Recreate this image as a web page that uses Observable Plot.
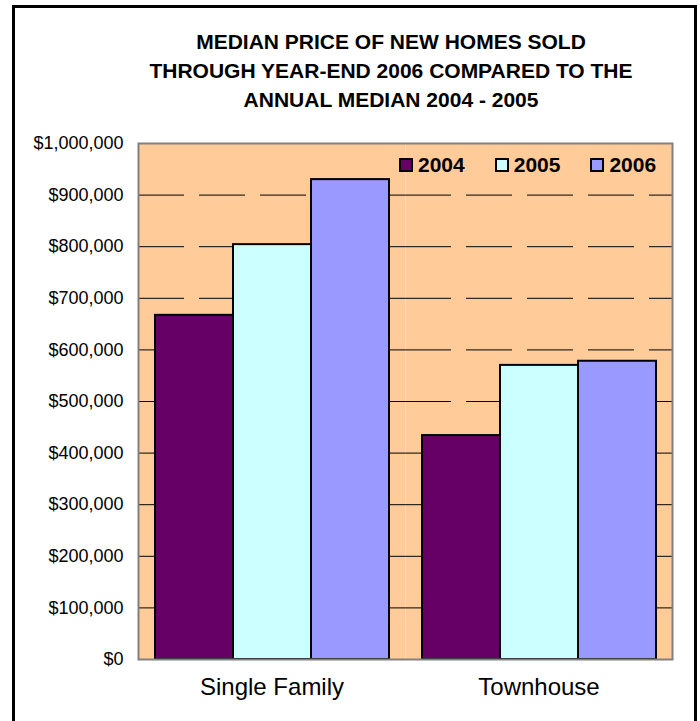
<!DOCTYPE html>
<html>
<head>
<meta charset="utf-8">
<script src="https://cdn.jsdelivr.net/npm/d3@7"></script>
<script src="https://cdn.jsdelivr.net/npm/@observablehq/plot@0.6"></script>
<style>
  html, body { margin: 0; padding: 0; background: #fff; }
  body { width: 700px; height: 721px; overflow: hidden; position: relative; font-family: "Liberation Sans", Arial, sans-serif; }
  #box { position: absolute; left: 12px; top: 5px; width: 685px; height: 740px; border: 3px solid #000; border-bottom: none; box-sizing: border-box; }
  #title { position: absolute; left: 141px; width: 500px; top: 27px; text-align: center; font-weight: bold; font-size: 21px; line-height: 29px; color: #000; }
  #chart { position: absolute; left: 0; top: 0; }
  #legend { position: absolute; left: 399px; top: 154px; display: flex; font-weight: bold; font-size: 21px; line-height: 21px; color: #000; }
  #legend .item { display: flex; align-items: center; margin-right: 30px; }
  #legend .sw { width: 14px; height: 14px; border: 2px solid #000; box-sizing: border-box; margin-right: 5px; }
</style>
</head>
<body>
<div id="box"></div>
<div id="title">MEDIAN PRICE OF NEW HOMES SOLD<br>THROUGH YEAR-END 2006 COMPARED TO THE<br>ANNUAL MEDIAN 2004 - 2005</div>
<div id="chart"></div>
<div id="legend"></div>
<script>
const categories = ["Single Family", "Townhouse"];
const years = ["2004", "2005", "2006"];
const values2004 = [667000, 434000];
const values2005 = [804000, 570000];
const values2006 = [930000, 578000];
const yTicks = [0, 100000, 200000, 300000, 400000, 500000, 600000, 700000, 800000, 900000, 1000000];
const yearColors = ["#660066", "#CCFFFF", "#9999FF"];

const series = [values2004, values2005, values2006];
const data = [];
categories.forEach((c, i) => years.forEach((y, j) => data.push({category: c, year: y, value: series[j][i]})));
const gridTicks = yTicks.filter(t => t > 0 && t < 1000000);

const plot = Plot.plot({
  width: 700,
  height: 721,
  marginTop: 143,
  marginBottom: 62,
  marginLeft: 138,
  marginRight: 28,
  style: {fontFamily: "'Liberation Sans', Arial, sans-serif", fontSize: "18px", color: "#000", background: "transparent", overflow: "visible"},
  fx: {domain: categories, padding: 0, axis: null, label: null},
  x: {domain: years, paddingInner: 0, paddingOuter: 0.2, axis: null, label: null},
  y: {domain: [0, 1000000], ticks: yTicks, tickFormat: d3.format("$,"), tickSize: 0, tickPadding: 15, label: null},
  color: {domain: years, range: yearColors},
  marks: [
    Plot.frame({fill: "#FFCC99", stroke: null}),
    Plot.ruleY(gridTicks, {y: d => d, stroke: "#000", strokeWidth: 1, strokeDasharray: "46,15"}),
    Plot.barY(data, {fx: "category", x: "year", y: "value", fill: "year", stroke: "#000", strokeWidth: 2}),
    Plot.frame({stroke: "#808080", strokeWidth: 2, fill: null, facet: "super"}),
    Plot.text(categories, {fx: d => d, text: d => d, frameAnchor: "bottom", dy: 35, fontSize: 24, fill: "#000"})
  ]
});
document.getElementById("chart").appendChild(plot);

const legend = document.getElementById("legend");
years.forEach((y, j) => {
  const item = document.createElement("div");
  item.className = "item";
  const sw = document.createElement("div");
  sw.className = "sw";
  sw.style.background = yearColors[j];
  const t = document.createElement("span");
  t.textContent = y;
  item.appendChild(sw);
  item.appendChild(t);
  legend.appendChild(item);
});
</script>
</body>
</html>
